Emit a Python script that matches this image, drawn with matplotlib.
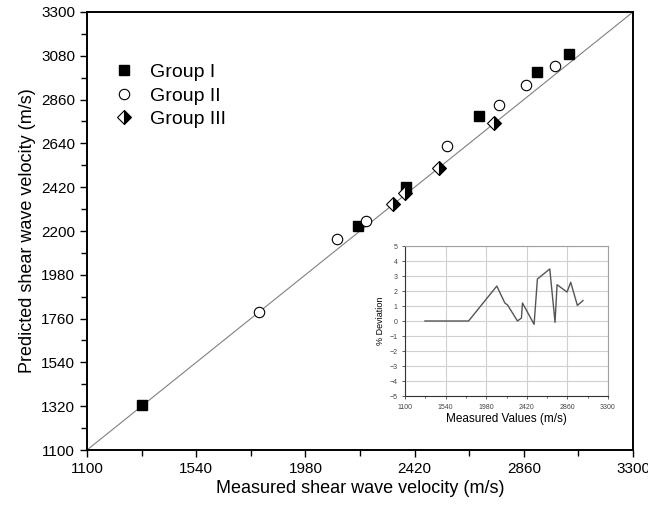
import matplotlib

matplotlib.use("Agg")
import matplotlib.pyplot as plt  # noqa: E402
import numpy as np  # noqa: E402
from matplotlib.ticker import MultipleLocator  # noqa: E402

plt.rcParams["font.family"] = ["Liberation Sans", "DejaVu Sans"]

# measured vs predicted shear wave velocity (m/s)
g1_meas = [1322, 2192, 2385, 2679, 2913, 3041]
g1_pred = [1326, 2226, 2422, 2778, 3001, 3091]
g2_meas = [1794, 2106, 2224, 2549, 2760, 2867, 2984]
g2_pred = [1792, 2159, 2252, 2629, 2835, 2933, 3028]
g3_meas = [2334, 2381, 2518, 2741]
g3_pred = [2335, 2390, 2516, 2742]

# inset: % deviation vs measured value
dev_x = [1316, 1789, 2095, 2182, 2211, 2319, 2362, 2373, 2499, 2535,
         2669, 2726, 2748, 2856, 2896, 2968, 3029]
dev_y = [0.0, 0.0, 2.33, 1.2, 1.07, 0.0, 0.2, 1.2, -0.22, 2.8,
         3.47, -0.09, 2.42, 1.93, 2.58, 1.04, 1.36]

xticks = np.arange(1100, 3301, 440)
yticks = np.arange(1100, 3301, 220)

fig = plt.figure(figsize=(6.48, 5.11), dpi=100)
ax = fig.add_axes([87 / 648, 61 / 511, 546 / 648, 438 / 511])

ax.plot([1100, 3300], [1100, 3300], color="#808080", lw=0.8, zorder=1)
ax.plot(g1_meas, g1_pred, ls="none", marker="s", ms=6.5, color="black",
        label="Group I", zorder=3)
ax.plot(g2_meas, g2_pred, ls="none", marker="o", ms=7.5, mfc="white",
        mec="black", mew=0.8, label="Group II", zorder=3)
ax.plot(g3_meas, g3_pred, ls="none", marker="D", ms=7, fillstyle="right",
        mfc="black", mfcalt="white", mec="black", mew=0.8,
        label="Group III", zorder=3)

ax.set_xlim(1100, 3300), ax.set_ylim(1100, 3300)
ax.set_xticks(xticks), ax.set_yticks(yticks)
ax.xaxis.set_minor_locator(MultipleLocator(220))
ax.yaxis.set_minor_locator(MultipleLocator(110))
ax.tick_params(which="both", direction="out", top=False, right=False,
               labelsize=11, width=1)
ax.tick_params(which="major", length=5)
ax.tick_params(which="minor", length=4)
for s in ax.spines.values():
    s.set_linewidth(1.4)
ax.set_xlabel("Measured shear wave velocity (m/s)", fontsize=13, labelpad=3)
ax.set_ylabel("Predicted shear wave velocity (m/s)", fontsize=13, labelpad=4)
ax.legend(loc="upper left", bbox_to_anchor=(0.0, 0.922), frameon=False,
          fontsize=14, handletextpad=0.35, labelspacing=0.3)

# inset with percentage deviation
ins = fig.add_axes([405 / 648, 115 / 511, 203 / 648, 150 / 511])
ins.plot(dev_x, dev_y, color="#555555", lw=1)
ins.set_xlim(1100, 3300), ins.set_ylim(-5, 5)
ins.set_xticks(xticks), ins.set_yticks(np.arange(-5, 6, 1))
ins.xaxis.set_minor_locator(MultipleLocator(220))
ins.grid(True, color="#d0d0d0", lw=0.8)
ins.set_axisbelow(True)
ins.tick_params(which="both", direction="out", labelsize=5, length=2,
                width=0.6, colors="#444444", top=False, right=False)
ins.tick_params(which="minor", length=1.5)
for s in ins.spines.values():
    s.set_color("#a0a0a0")
    s.set_linewidth(0.8)
ins.spines["left"].set_color("#333333")
ins.spines["bottom"].set_color("#333333")
ins.set_xlabel("Measured Values (m/s)", fontsize=8.5, labelpad=2)
ins.set_ylabel("% Deviation", fontsize=6.5, labelpad=3)

fig.savefig("out.png", dpi=100)
